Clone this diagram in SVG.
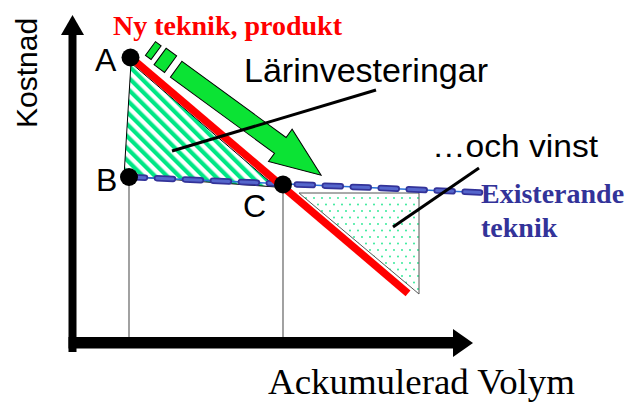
<svg xmlns="http://www.w3.org/2000/svg" width="627" height="408" viewBox="0 0 627 408">
<defs>
<pattern id="hatch" patternUnits="userSpaceOnUse" width="8.5" height="8.5" patternTransform="rotate(-45)">
<rect x="0" y="0" width="8.5" height="8.5" fill="#ffffff"/>
<rect x="0" y="0" width="4.2" height="8.5" fill="#00e685"/>
</pattern>
<pattern id="dots" patternUnits="userSpaceOnUse" width="8" height="13">
<rect x="0" y="0" width="8" height="13" fill="#ffffff"/>
<circle cx="2" cy="3" r="0.9" fill="#20e890"/>
<circle cx="6" cy="9.5" r="0.9" fill="#20e890"/>
</pattern>
<style>
.sans{font-family:"Liberation Sans",Arial,sans-serif;fill:#000}
.serif{font-family:"Liberation Serif","Times New Roman",serif}
.dot{fill:#000}
.thin{stroke:#555;stroke-width:1.1;fill:none}
.leader{stroke:#000;stroke-width:3;fill:none}
.grn{fill:#0be334;stroke:#000;stroke-width:1}
</style>
</defs>
<rect width="627" height="408" fill="#ffffff"/>

<g id="areas">
<polygon id="learning-area" points="131,63 124,176 276,187" fill="url(#hatch)" stroke="#000" stroke-width="1"/>
<polygon id="profit-area" points="299,193 419,193 419,294" fill="url(#dots)" stroke="#555" stroke-width="1"/>
</g>

<g id="axes">
<rect x="68.5" y="35" width="8" height="317" fill="#000"/>
<polygon points="61,35 84,35 72.5,15" fill="#000"/>
<rect x="68.5" y="337" width="385" height="11.5" fill="#000"/>
<polygon points="453,329 453,357 473,343" fill="#000"/>
</g>

<g id="connectors">
<line class="thin" x1="129" y1="177" x2="129" y2="337"/>
<line class="thin" x1="283" y1="184" x2="283" y2="337"/>
<g id="existing-line">
<line x1="129" y1="177" x2="480" y2="192.5" stroke="#2a70d8" stroke-width="1.6"/>
<line x1="129" y1="177" x2="480" y2="192.5" stroke="#333399" stroke-width="6.5" stroke-dasharray="16 12" stroke-linecap="round"/>
<line x1="129" y1="177" x2="480" y2="192.5" stroke="#5566cc" stroke-width="3" stroke-dasharray="16 12" stroke-linecap="round"/>
</g>
<line id="new-line" x1="130.7" y1="57.3" x2="408" y2="293.3" stroke="#ff0000" stroke-width="7.5"/>
<g id="learning-arrow" transform="translate(176.2,69.2) rotate(36.2)">
<polygon class="grn" points="-33,-10 -26,-10 -26,7 -33,7"/>
<polygon class="grn" points="-20.5,-11 -7.5,-11 -7.5,9.5 -20.5,9.5"/>
<polygon class="grn" points="0,-9.8 129,-9.8 129,-20 179.6,0 129,20 129,9.8 0,9.8"/>
</g>
<line class="leader" x1="172" y1="151" x2="376" y2="90"/>
<line class="leader" x1="393" y1="227" x2="479" y2="168"/>
</g>

<g id="point-A"><circle class="dot" cx="130.5" cy="57.5" r="9"/><text class="sans" x="95" y="71" font-size="32">A</text></g>
<g id="point-B"><circle class="dot" cx="129" cy="177" r="9"/><text class="sans" x="96" y="191" font-size="32">B</text></g>
<g id="point-C"><circle class="dot" cx="283" cy="184.5" r="9"/><text class="sans" x="243" y="217" font-size="32">C</text></g>

<g id="labels">
<text class="serif" x="113" y="35" font-size="28" font-weight="bold" fill="#ff0000">Ny teknik, produkt</text>
<text class="sans" x="244" y="82" font-size="33" textLength="244" lengthAdjust="spacingAndGlyphs">Lärinvesteringar</text>
<text class="sans" x="432" y="157" font-size="31" textLength="166" lengthAdjust="spacingAndGlyphs">…och vinst</text>
<text class="serif" x="481" y="203" font-size="28" font-weight="bold" fill="#333399">Existerande</text>
<text class="serif" x="481" y="237" font-size="28" font-weight="bold" fill="#333399">teknik</text>
<text class="sans" transform="translate(37,128) rotate(-90)" font-size="30">Kostnad</text>
<text class="serif" x="268" y="394" font-size="36" textLength="307" lengthAdjust="spacingAndGlyphs" fill="#000">Ackumulerad Volym</text>
</g>
</svg>
